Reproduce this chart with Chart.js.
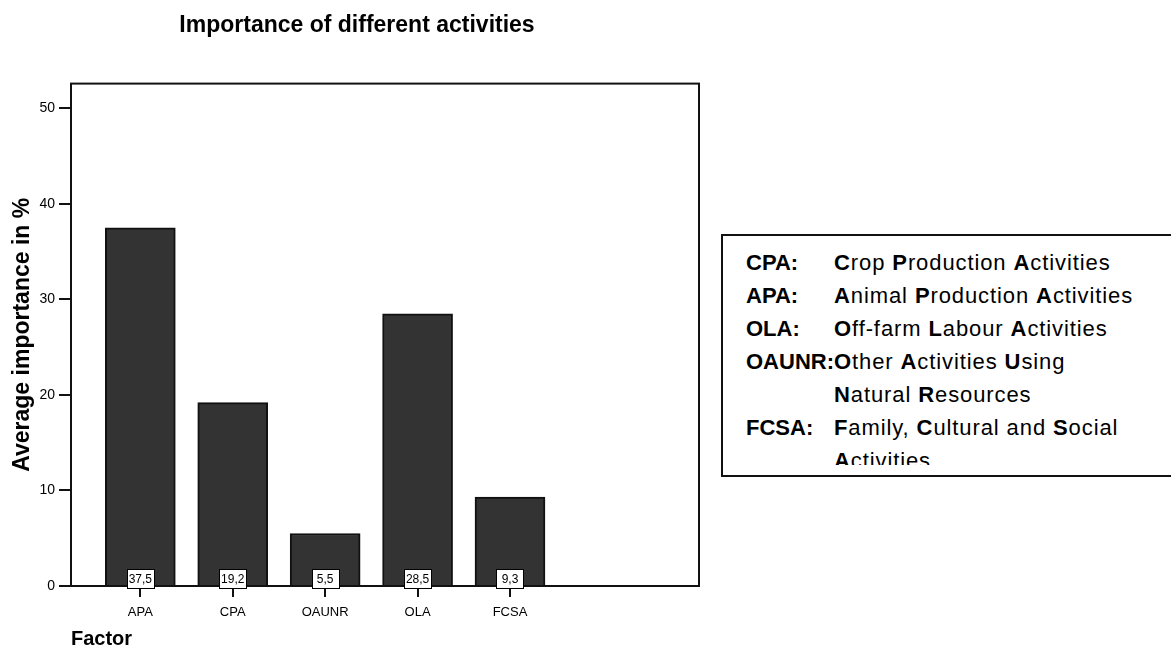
<!DOCTYPE html>
<html>
<head>
<meta charset="utf-8">
<script src="https://cdn.jsdelivr.net/npm/chart.js@4"></script>
<style>
  html, body { margin: 0; padding: 0; background: #fff; }
  body { width: 1171px; height: 648px; position: relative; overflow: hidden; font-family: "Liberation Sans", Arial, sans-serif; }
  #wrap { position: absolute; left: 0; top: 0; width: 714px; height: 648px; }
  #key {
    position: absolute; left: 721px; top: 234px; width: 520px; height: 239px;
    border: 2px solid #111; border-right: none; background: #fff;
  }
  #keyInner {
    position: absolute; left: 0; top: 0; right: 0; height: 229px; overflow: hidden;
    padding: 10.4px 0 0 23px; box-sizing: border-box;
    display: grid; grid-template-columns: 88px auto; grid-auto-rows: 33px;
    font-size: 22px; line-height: 33px; color: #000; align-content: start;
  }
  #keyInner .k { font-weight: bold; }
  #keyInner .d { letter-spacing: 0.9px; }
</style>
</head>
<body>
<div id="wrap"><canvas id="chart" width="714" height="648"></canvas></div>
<div id="key"><div id="keyInner">
  <div class="k">CPA:</div><div class="d"><b>C</b>rop <b>P</b>roduction <b>A</b>ctivities</div>
  <div class="k">APA:</div><div class="d"><b>A</b>nimal <b>P</b>roduction <b>A</b>ctivities</div>
  <div class="k">OLA:</div><div class="d"><b>O</b>ff-farm <b>L</b>abour <b>A</b>ctivities</div>
  <div class="k">OAUNR:</div><div class="d"><b>O</b>ther <b>A</b>ctivities <b>U</b>sing</div>
  <div></div><div class="d"><b>N</b>atural <b>R</b>esources</div>
  <div class="k">FCSA:</div><div class="d"><b>F</b>amily, <b>C</b>ultural and <b>S</b>ocial</div>
  <div></div><div class="d"><b>A</b>ctivities</div>
</div></div>
<script>
const factors = ["APA", "CPA", "OAUNR", "OLA", "FCSA"];
const importance = [37.5, 19.2, 5.5, 28.5, 9.3];
const valueLabels = ["37,5", "19,2", "5,5", "28,5", "9,3"];
const yTicks = [0, 10, 20, 30, 40, 50];

const FONT = '"Liberation Sans", Arial, sans-serif';

// box round the plot area (SPSS style frame)
const frame = {
    id: "frame",
    afterDatasetsDraw(chart) {
        const { ctx, chartArea: a } = chart;
        ctx.save();
        ctx.strokeStyle = "#111";
        ctx.lineWidth = 2;
        ctx.strokeRect(a.left, a.top, a.right - a.left, a.bottom - a.top);
        ctx.restore();
    },
};

// little white boxes with the values, sitting on the base of each bar
const valueBoxes = {
    id: "valueBoxes",
    afterDatasetsDraw(chart) {
        const { ctx } = chart;
        const y0 = chart.scales.y.getPixelForValue(0);
        const meta = chart.getDatasetMeta(0);
        ctx.save();
        ctx.font = "12px " + FONT;
        ctx.textAlign = "center";
        ctx.textBaseline = "middle";
        meta.data.forEach((bar, i) => {
            const w = 27, h = 19;
            const x = Math.round(bar.x - w / 2) + 0.5;
            const y = Math.round(y0 + 2 - h) + 0.5;
            ctx.fillStyle = "#fff";
            ctx.fillRect(x, y, w, h);
            ctx.strokeStyle = "#000";
            ctx.lineWidth = 1;
            ctx.strokeRect(x, y, w, h);
            ctx.fillStyle = "#000";
            ctx.fillText(valueLabels[i], bar.x, y + h / 2 + 1);
        });
        ctx.restore();
    },
};

new Chart(document.getElementById("chart"), {
    type: "bar",
    data: {
        datasets: [
            {
                label: "Average importance in %",
                data: factors.map((f, i) => ({ x: i, y: importance[i] })),
                backgroundColor: "#333333",
                borderColor: "#111",
                borderWidth: 2,
                barThickness: 70,
            },
        ],
    },
    plugins: [frame, valueBoxes],
    options: {
        responsive: false,
        animation: false,
        layout: { padding: 0 },
        plugins: {
            legend: { display: false },
            tooltip: { enabled: false },
            title: {
                display: true,
                text: "Importance of different activities",
                color: "#000",
                font: { family: FONT, size: 23, weight: "bold" },
                padding: { top: 12, bottom: 44 },
            },
        },
        scales: {
            x: {
                type: "linear",
                offset: false,
                min: -0.75,
                max: 6.045,
                afterBuildTicks: (scale) => {
                    scale.ticks = factors.map((f, i) => ({ value: i }));
                },
                afterFit: (scale) => { scale.height = 62; },
                ticks: {
                    color: "#000",
                    font: { family: FONT, size: 13 },
                    padding: 8,
                    callback: (v) => factors[v],
                },
                grid: { offset: false, drawOnChartArea: false, color: "#111", lineWidth: 2, tickLength: 11 },
                border: { display: false },
                title: {
                    display: true,
                    text: "Factor",
                    align: "start",
                    color: "#000",
                    font: { family: FONT, size: 20, weight: "bold", lineHeight: 0.9 },
                    padding: { top: 0, bottom: 0 },
                },
            },
            y: {
                min: 0,
                max: 52.6,
                afterBuildTicks: (scale) => {
                    scale.ticks = yTicks.map((v) => ({ value: v }));
                },
                afterFit: (scale) => { scale.width = 71; },
                ticks: {
                    color: "#000",
                    font: { family: FONT, size: 14 },
                    padding: 4,
                },
                grid: { drawOnChartArea: false, color: "#111", lineWidth: 2, tickLength: 12 },
                border: { display: false },
                title: {
                    display: true,
                    text: "Average importance in %",
                    color: "#000",
                    font: { family: FONT, size: 23, weight: "bold" },
                    padding: { top: 9, bottom: 0 },
                },
            },
            // empty strip on the right so the title centres over the whole figure
            yRight: {
                position: "right",
                afterFit: (scale) => { scale.width = 15; },
                ticks: { display: false },
                grid: { display: false },
                border: { display: false },
            },
        },
    },
});
</script>
</body>
</html>
